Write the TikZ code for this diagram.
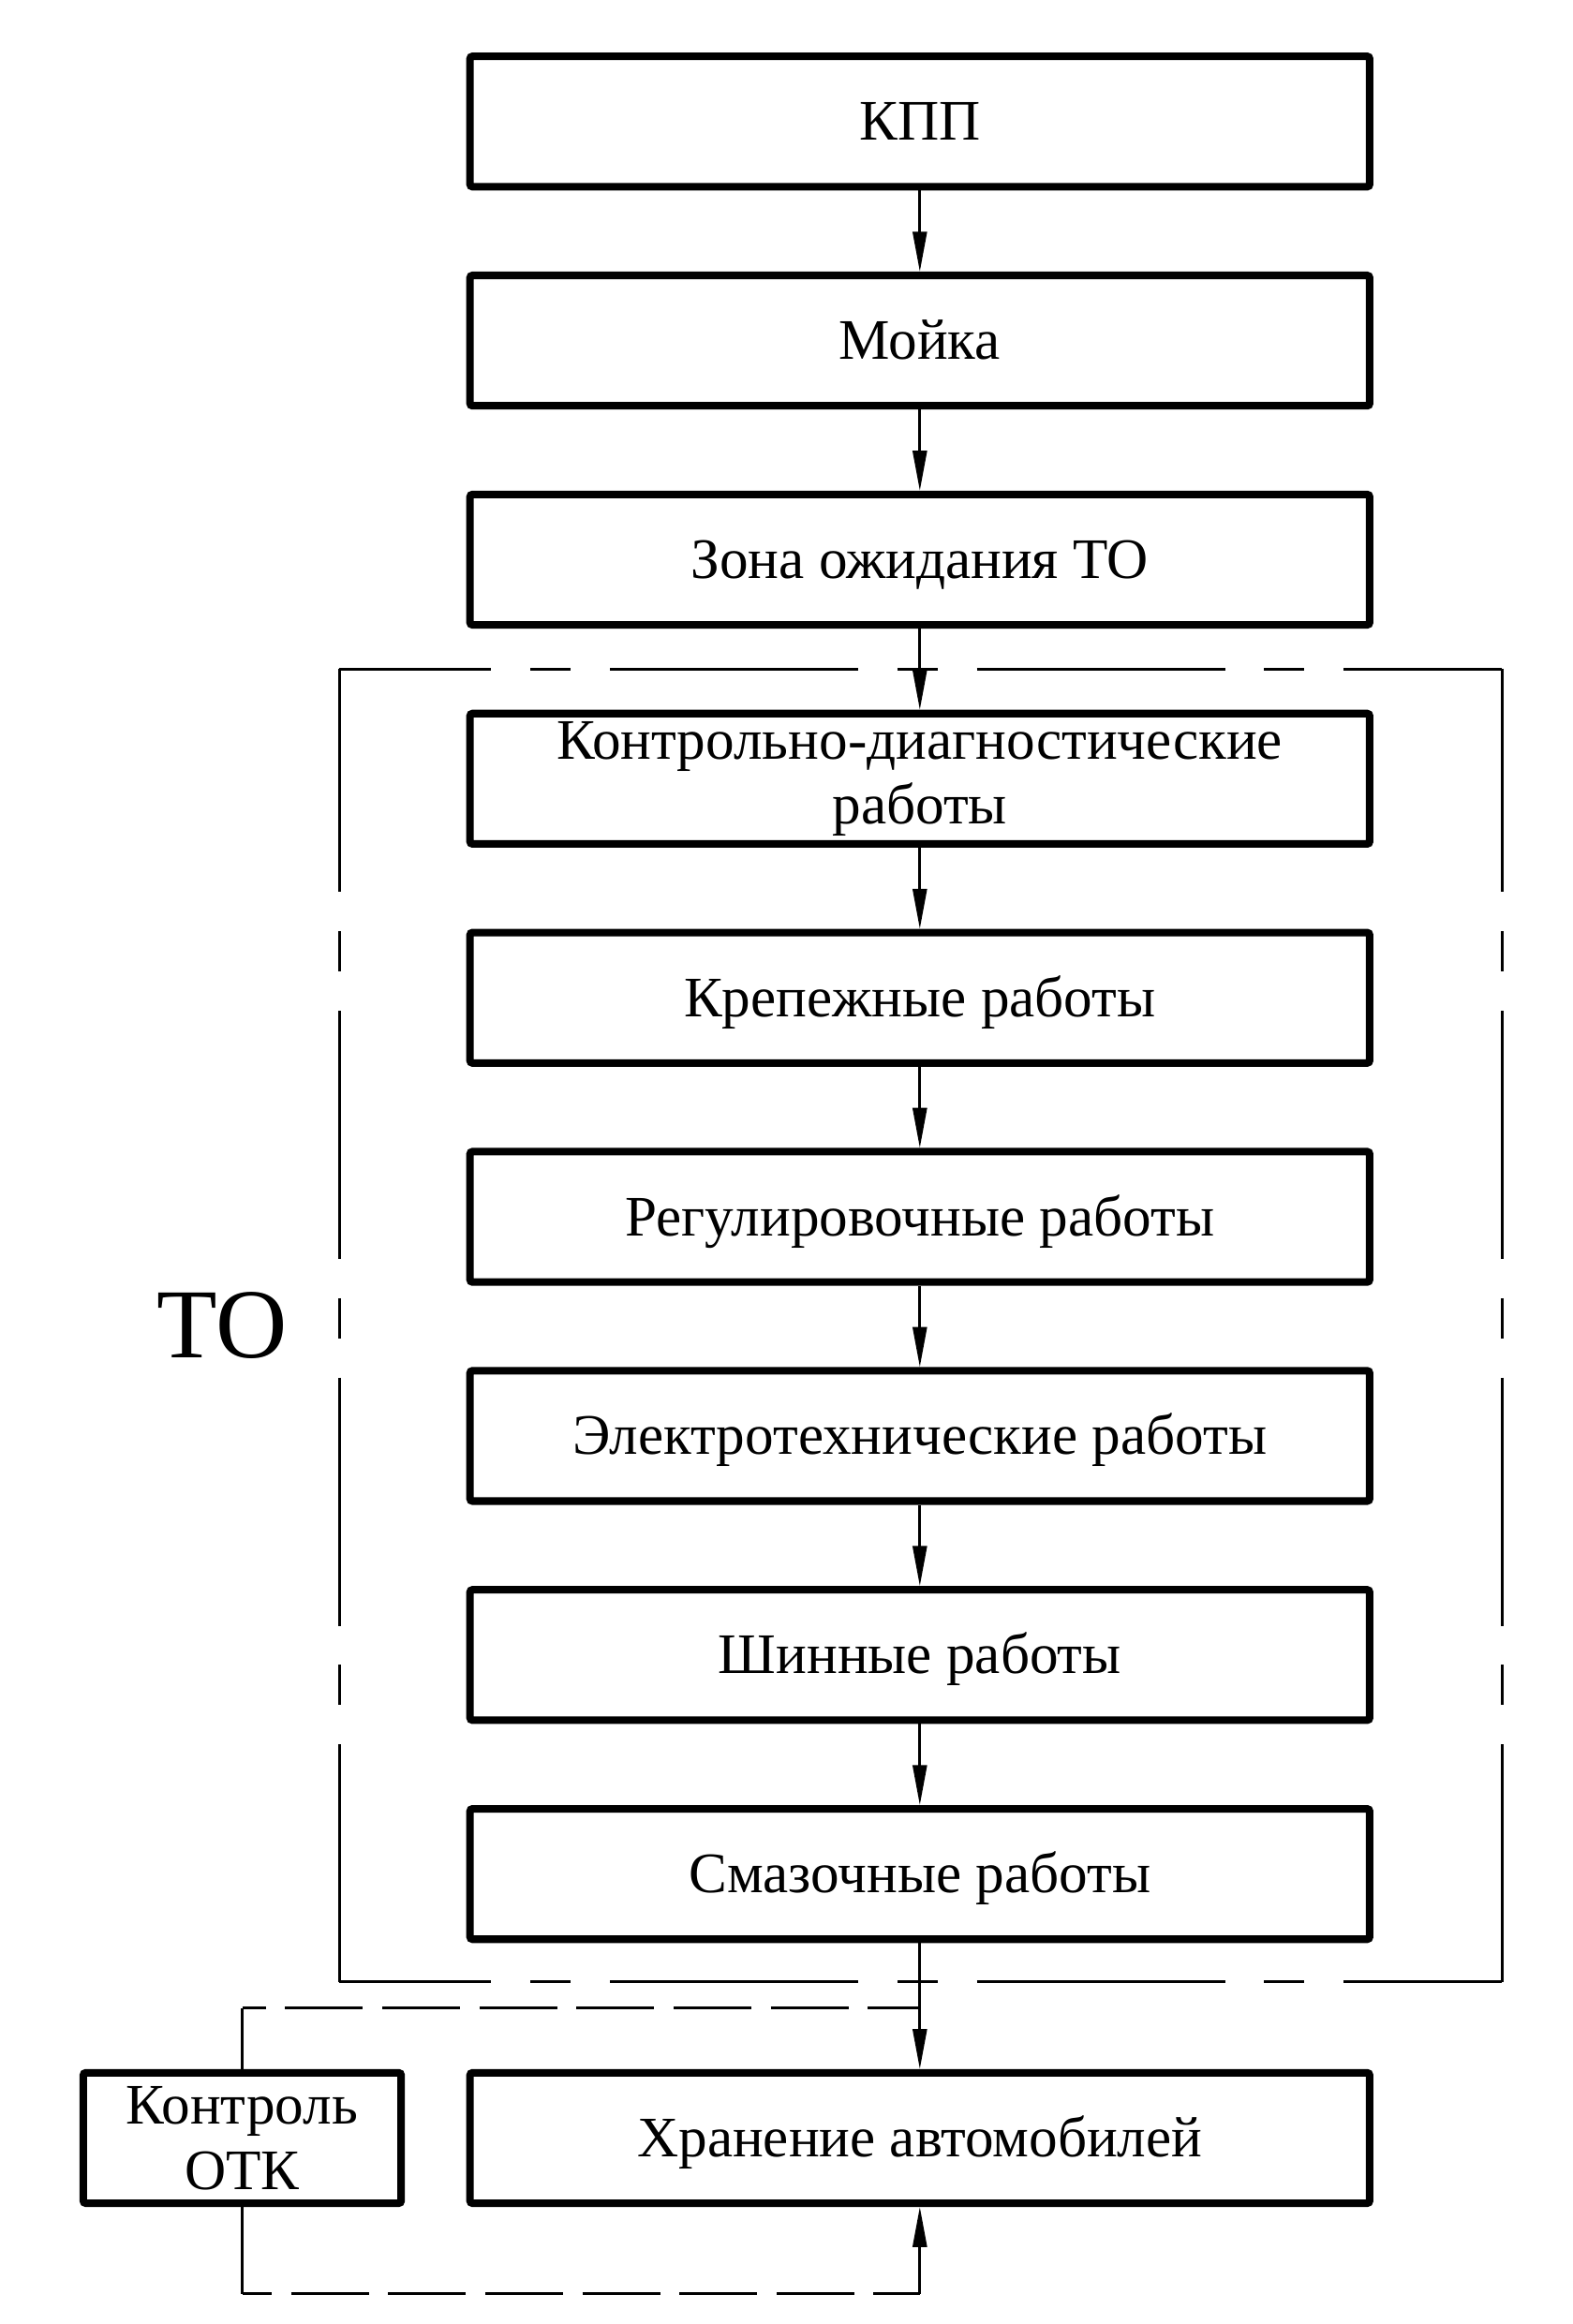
\documentclass[tikz,border=0pt]{standalone}
\usepackage{fontspec}
\setmainfont{Liberation Serif}
\usetikzlibrary{arrows.meta}
\begin{document}
\begin{tikzpicture}[x=0.02cm, y=-0.02cm,
  box/.style={draw, line width=2.9pt, minimum width=12.14cm, minimum height=1.76cm,
    inner sep=0pt, rounded corners=1pt, font=\fontsize{22pt}{25pt}\selectfont,
    text height=14.4pt, text depth=0pt},
  twoline/.style n args={3}{align=center, font=\fontsize{22pt}{#1}\selectfont, text height=#2, text depth=#3},
  flow/.style={line width=0.95pt, -{Triangle[length=0.54cm, width=0.19cm]}},
  plain/.style={line width=0.95pt},
  frame/.style={line width=0.95pt, dash pattern=on 3.35cm off 0.53cm on 0.54cm off 0.53cm},
  odash/.style={line width=0.95pt, dash pattern=on 1.05cm off 0.26cm}
]
\useasboundingbox (0,0) rectangle (1060.5,1568);

% main column
\node[box] (kpp)   at (620.5,82)     {КПП};
\node[box] (moika) at (620.5,229.8)  {Мойка};
\node[box] (zona)  at (620.5,377.6)  {Зона ожидания ТО};
\node[box, twoline={24.9pt}{39.3pt}{4.5pt}] (kd) at (620.5,525.4) {Контрольно-диагностические\\работы};
\node[box] (krep)  at (620.5,673.2)  {Крепежные работы};
\node[box] (reg)   at (620.5,821)    {Регулировочные работы};
\node[box] (el)    at (620.5,968.8)  {Электротехнические работы};
\node[box] (shin)  at (620.5,1116.6) {Шинные работы};
\node[box] (smaz)  at (620.5,1264.4) {Смазочные работы};
\node[box] (hran)  at (620.5,1442.5) {Хранение автомобилей};
\node[box, minimum width=4.29cm, twoline={24.9pt}{39.3pt}{0pt}] (otk) at (163.4,1442.5) {Контроль\\ОТК};

% label
\node[inner sep=0pt, font=\fontsize{38pt}{40pt}\selectfont, text height=24.9pt, text depth=0pt]
  (to) at (150,894.5) {ТО};

% flow arrows
\draw[flow] (kpp) -- (moika);
\draw[flow] (moika) -- (zona);
\draw[flow] (zona) -- (kd);
\draw[flow] (kd) -- (krep);
\draw[flow] (krep) -- (reg);
\draw[flow] (reg) -- (el);
\draw[flow] (el) -- (shin);
\draw[flow] (shin) -- (smaz);
\draw[flow] (smaz) -- (hran);

% TO frame
\coordinate (ftl) at (229,451.5);
\coordinate (ftr) at (1013.3,451.5);
\coordinate (fbl) at (229,1337);
\coordinate (fbr) at (1013.3,1337);
\draw[frame, dash phase=1.3cm] (ftl) -- (ftr);
\draw[frame, dash phase=1.3cm] (fbl) -- (fbr);
\draw[frame, dash phase=0.34cm] (ftl) -- (fbl);
\draw[frame, dash phase=0.34cm] (ftr) -- (fbr);

% OTK connectors
\coordinate (j1) at (620.5,1354.8);
\coordinate (c1) at (163.4,1354.8);
\coordinate (c2) at (163.4,1547.6);
\coordinate (c3) at (620.5,1547.6);
\draw[plain] (otk.north) -- (c1);
\draw[odash, dash phase=0.73cm] (c1) -- (j1);
\draw[plain] (otk.south) -- (c2);
\draw[odash, dash phase=0.65cm] (c2) -- (c3);
\draw[flow] (c3) -- (hran.south);
\end{tikzpicture}
\end{document}
